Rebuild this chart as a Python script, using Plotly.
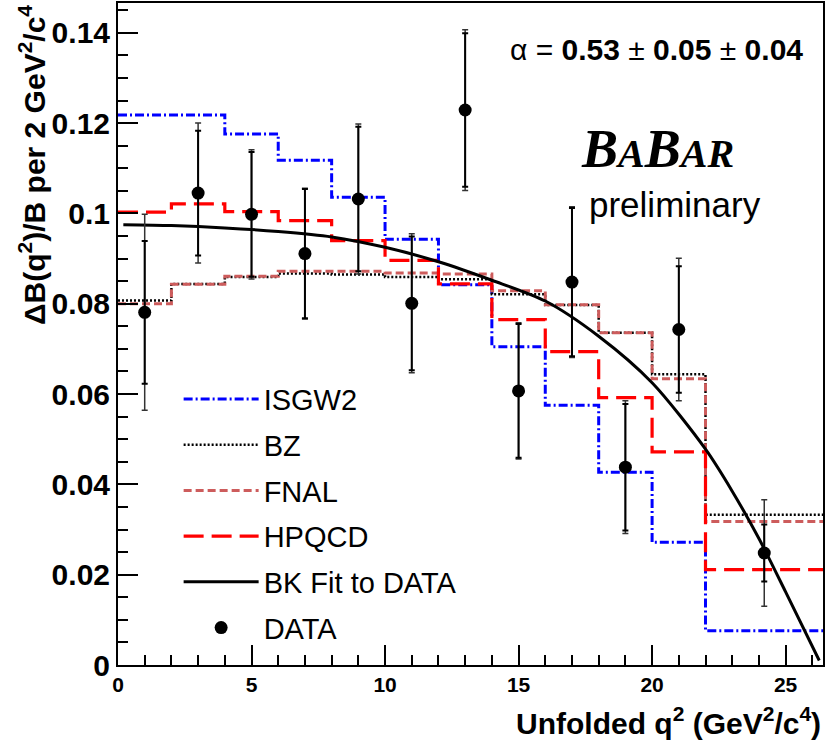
import plotly.graph_objects as go

# ---------------- data ----------------
bin_edges = [0, 2, 4, 6, 8, 10, 12, 14, 16, 18, 20, 22, 26.4]
isgw2 = [0.1218, 0.1218, 0.1176, 0.1118, 0.1036, 0.0943, 0.0842, 0.0705, 0.0575, 0.0427, 0.0272, 0.0076]
bz = [0.0807, 0.0844, 0.0859, 0.0867, 0.0865, 0.0859, 0.0854, 0.0821, 0.0797, 0.0736, 0.0644, 0.0333]
fnal = [0.0800, 0.0843, 0.0861, 0.0872, 0.0872, 0.0868, 0.0866, 0.0829, 0.0798, 0.0736, 0.0634, 0.0318]
hpqcd = [0.1003, 0.1021, 0.1004, 0.0984, 0.0940, 0.0896, 0.0844, 0.0765, 0.0694, 0.0592, 0.0472, 0.0211]

fit_q2 = [0.2, 2, 4, 6, 8, 10, 12, 14, 16, 18, 20, 22, 23, 24, 25, 26.26]
fit_val = [0.0975, 0.0973, 0.0968, 0.0960, 0.0948, 0.0925, 0.0893, 0.0852, 0.0806, 0.0728, 0.0625, 0.0478,
           0.0385, 0.0280, 0.0162, 0.0010]

data_q2 = [1, 3, 5, 7, 9, 11, 13, 15, 17, 19, 21, 24.2]
data_val = [0.0781, 0.1045, 0.0998, 0.0911, 0.1032, 0.0801, 0.1229, 0.0607, 0.0848, 0.0438, 0.0743, 0.0248]
err_stat = [0.0158, 0.0138, 0.0138, 0.0143, 0.0160, 0.0148, 0.0170, 0.0148, 0.0164, 0.0140, 0.0140, 0.0063]
err_tot = [0.0217, 0.0155, 0.0143, 0.0145, 0.0166, 0.0154, 0.0178, 0.0151, 0.0167, 0.0147, 0.0158, 0.0118]

x_ticks = [0, 5, 10, 15, 20, 25]
y_ticks = [0, 0.02, 0.04, 0.06, 0.08, 0.1, 0.12, 0.14]
y_tick_text = ["0", "0.02", "0.04", "0.06", "0.08", "0.1", "0.12", "0.14"]

FONT = "Liberation Sans, Arial, sans-serif"


def step(vals):
    return list(vals) + [vals[-1]]


fig = go.Figure()

hist_specs = [
    ("ISGW2", isgw2, "#0000ff", "9px,3px,2px,3px", 3),
    ("BZ", bz, "#000000", "2px,2px", 2.5),
    ("FNAL", fnal, "#cd5c5c", "8px,4px", 3),
    ("HPQCD", hpqcd, "#ff0000", "20px,8px", 3.2),
]
for name, vals, col, dash, w in hist_specs:
    fig.add_trace(go.Scatter(
        x=bin_edges, y=step(vals), mode="lines", name=name,
        line=dict(color=col, dash=dash, width=w, shape="hv"),
        legendgroup=name,
    ))

fig.add_trace(go.Scatter(
    x=fit_q2, y=fit_val, mode="lines", name="BK Fit to DATA",
    line=dict(color="black", width=3, shape="spline", smoothing=0.8),
    legendgroup="fit",
))

# total errors (outer)
fig.add_trace(go.Scatter(
    x=data_q2, y=data_val, mode="markers", showlegend=False,
    marker=dict(color="black", size=1, opacity=0),
    error_y=dict(type="data", array=err_tot, color="#333333", thickness=1.5, width=3),
    hoverinfo="skip",
))
# stat errors + markers
fig.add_trace(go.Scatter(
    x=data_q2, y=data_val, mode="markers", name="DATA",
    marker=dict(color="black", size=13, symbol="circle"),
    error_y=dict(type="data", array=err_stat, color="black", thickness=2, width=3),
    legendgroup="data",
))

fig.update_layout(
    width=827, height=744,
    margin=dict(l=118, r=4, t=1, b=79),
    paper_bgcolor="white", plot_bgcolor="white",
    font=dict(family=FONT, color="black"),
    showlegend=True,
    legend=dict(
        x=0.086, y=0.44, xanchor="left", yanchor="top",
        bgcolor="rgba(0,0,0,0)", borderwidth=0,
        font=dict(size=29, family=FONT),
        itemwidth=75, tracegroupgap=5,
    ),
    xaxis=dict(
        range=[0, 26.4], showgrid=False, zeroline=False,
        showline=True, linecolor="black", linewidth=2, mirror=True,
        ticks="inside", ticklen=20, tickwidth=1.5, tickcolor="black",
        tickvals=x_ticks, ticktext=[str(v) for v in x_ticks],
        tickfont=dict(size=21, family=FONT, weight="bold"),
        minor=dict(ticks="inside", ticklen=10, tickwidth=1.5, dtick=1, tick0=0, tickcolor="black"),
    ),
    yaxis=dict(
        range=[0, 0.1466], showgrid=False, zeroline=False,
        showline=True, linecolor="black", linewidth=2, mirror=True,
        ticks="inside", ticklen=20, tickwidth=1.5, tickcolor="black",
        tickvals=y_ticks, ticktext=y_tick_text,
        tickfont=dict(size=30, family=FONT, weight="bold"),
        minor=dict(ticks="inside", ticklen=10, tickwidth=1.5, dtick=0.005, tick0=0, tickcolor="black"),
    ),
)

annotations = [
    dict(text="Unfolded q<sup>2</sup> (GeV<sup>2</sup>/c<sup>4</sup>)", xref="paper", yref="paper",
         x=1.0, y=-0.085, xanchor="right", yanchor="middle", showarrow=False,
         font=dict(size=30, family=FONT, weight="bold")),
    dict(text="ΔB(q<sup>2</sup>)/B per 2 GeV<sup>2</sup>/c<sup>4</sup>", xref="paper", yref="paper",
         x=-0.122, y=1.0, xanchor="center", yanchor="top", showarrow=False, textangle=-90,
         font=dict(size=30, family=FONT, weight="bold")),
    dict(text="α = <b>0.53</b> ± <b>0.05</b> ± <b>0.04</b>", xref="paper", yref="paper",
         x=0.975, y=0.93, xanchor="right", yanchor="middle", showarrow=False,
         font=dict(size=30, family=FONT)),
    dict(text="<b><i><span style='font-size:54px'>B</span><span style='font-size:40px'>A</span>"
              "<span style='font-size:54px'>B</span><span style='font-size:40px'>AR</span></i></b>",
         xref="paper", yref="paper", x=0.765, y=0.78, xanchor="center", yanchor="middle",
         showarrow=False, font=dict(family="Liberation Serif, Times New Roman, serif", size=54)),
    dict(text="preliminary", xref="paper", yref="paper",
         x=0.79, y=0.696, xanchor="center", yanchor="middle", showarrow=False,
         font=dict(size=35, family=FONT)),
]
fig.update_layout(annotations=annotations)

fig.write_html("out.html", config={"displayModeBar": False},
               post_script="document.body.style.margin='0px';")
